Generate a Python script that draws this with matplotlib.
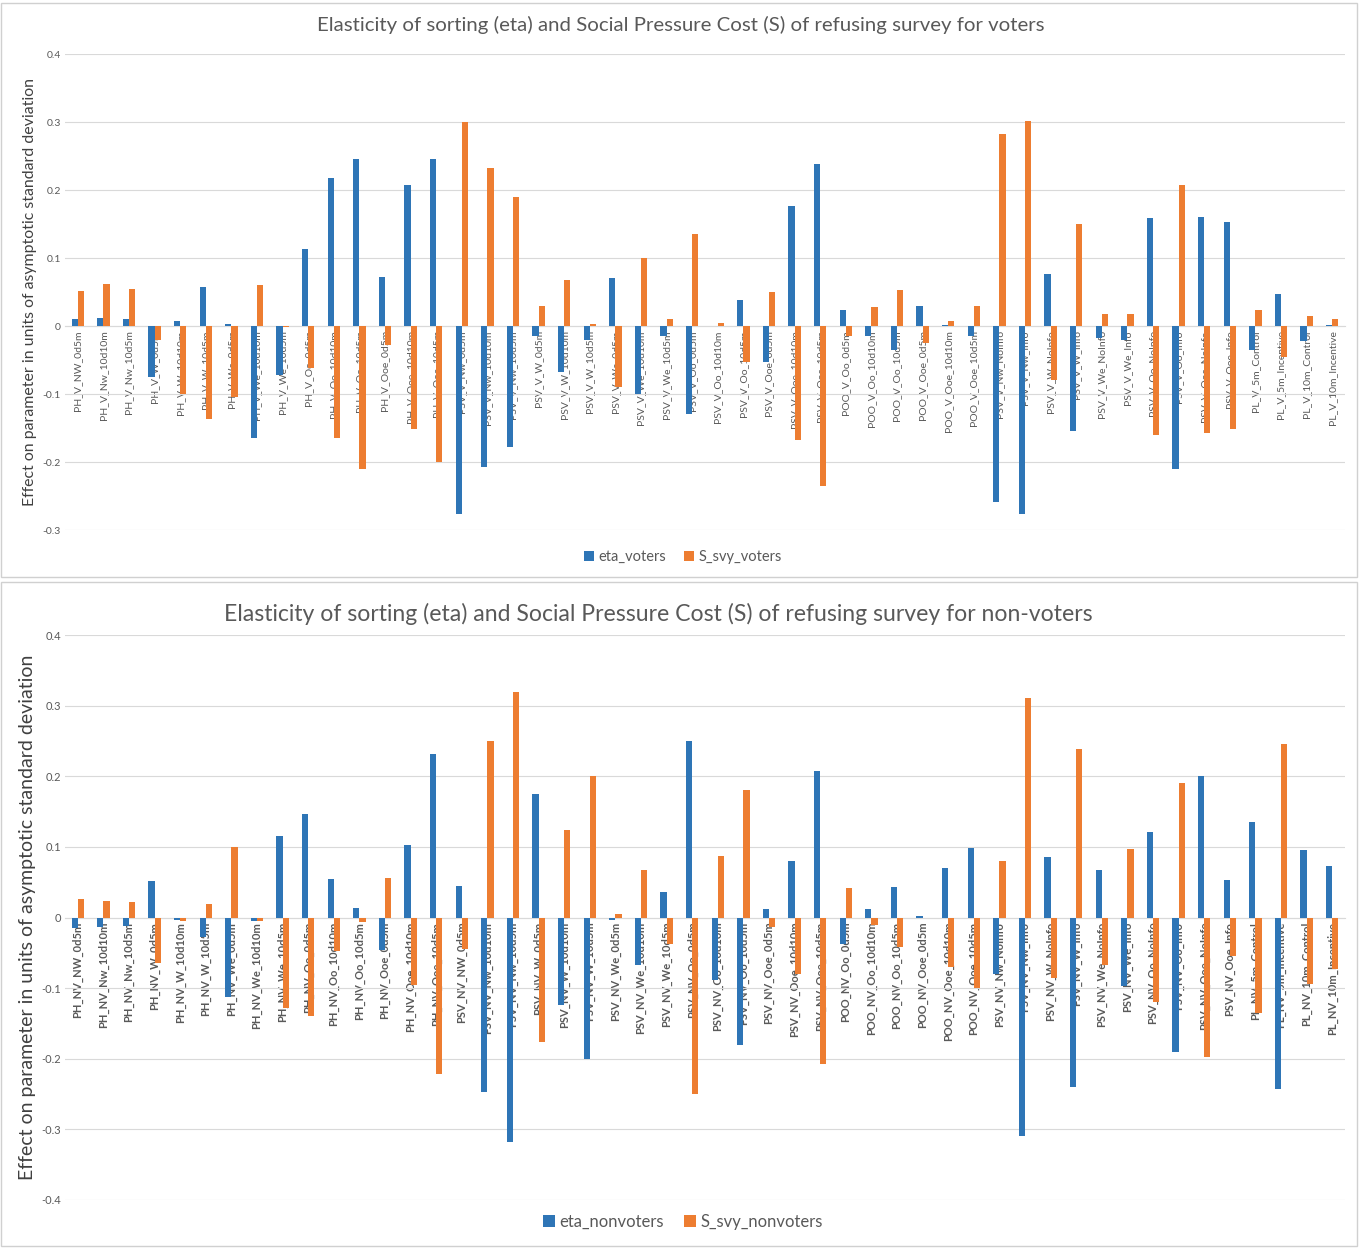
import numpy as np
import matplotlib.pyplot as plt
from matplotlib.patches import Rectangle

plt.rcParams['font.family'] = ['Lato', 'DejaVu Sans']

# ---------------------------------------------------------------------------
# Data
# ---------------------------------------------------------------------------
suffixes = [
    "NW_0d5m", "Nw_10d10m", "Nw_10d5m", "W_0d5m", "W_10d10m", "W_10d5m",
    "We_0d5m", "We_10d10m", "We_10d5m", "Oo_0d5m", "Oo_10d10m", "Oo_10d5m",
    "Ooe_0d5m", "Ooe_10d10m", "Ooe_10d5m",
]
poo_suffixes = ["Oo_0d5m", "Oo_10d10m", "Oo_10d5m", "Ooe_0d5m", "Ooe_10d10m", "Ooe_10d5m"]
info_suffixes = ["Nw_NoInfo", "Nw_Info", "W_NoInfo", "W_Info", "We_NoInfo", "We_Info",
                 "Oo_NoInfo", "Oo_Info", "Ooe_NoInfo", "Ooe_Info"]
pl_suffixes = ["5m_Control", "5m_Incentive", "10m_Control", "10m_Incentive"]


def make_labels(tag, psv_first):
    return ([f"PH_{tag}_{s}" for s in suffixes]
            + [f"PSV_{tag}_{psv_first}"] + [f"PSV_{tag}_{s}" for s in suffixes[1:]]
            + [f"POO_{tag}_{s}" for s in poo_suffixes]
            + [f"PSV_{tag}_{s}" for s in info_suffixes]
            + [f"PL_{tag}_{s}" for s in pl_suffixes])


labels_voters = make_labels("V", "Nw_0d5m")
labels_nonvoters = make_labels("NV", "NW_0d5m")

eta_voters = [0.010, 0.012, 0.010, -0.075, 0.008, 0.057, 0.003, -0.165, -0.072,
              0.113, 0.218, 0.246, 0.072, 0.207, 0.246,
              -0.277, -0.208, -0.178, -0.015, -0.068, -0.020, 0.071, -0.100, -0.015,
              -0.130, 0.000, 0.038, -0.053, 0.176, 0.238,
              0.024, -0.015, -0.035, 0.029, 0.002, -0.014,
              -0.259, -0.277, 0.077, -0.155, -0.018, -0.020, 0.159, -0.210, 0.161, 0.153,
              -0.035, 0.047, -0.022, 0.001]
S_svy_voters = [0.052, 0.062, 0.054, -0.020, -0.100, -0.137, -0.105, 0.060, -0.002,
                -0.062, -0.165, -0.210, -0.028, -0.152, -0.200,
                0.300, 0.233, 0.190, 0.029, 0.068, 0.003, -0.090, 0.100, 0.011,
                0.135, 0.004, -0.053, 0.050, -0.168, -0.236,
                -0.015, 0.028, 0.053, -0.025, 0.008, 0.030,
                0.283, 0.302, -0.080, 0.150, 0.018, 0.018, -0.160, 0.207, -0.157, -0.152,
                0.024, -0.045, 0.015, 0.010]

eta_nonvoters = [-0.015, -0.013, -0.012, 0.051, -0.004, -0.028, -0.113, -0.005, 0.115,
                 0.146, 0.055, 0.013, -0.046, 0.102, 0.231,
                 0.045, -0.247, -0.318, 0.175, -0.124, -0.200, -0.003, -0.067, 0.036,
                 0.250, -0.088, -0.180, 0.012, 0.080, 0.208,
                 -0.037, 0.012, 0.043, 0.002, 0.070, 0.098,
                 -0.080, -0.310, 0.086, -0.240, 0.067, -0.097, 0.121, -0.190, 0.200, 0.053,
                 0.135, -0.243, 0.095, 0.073]
S_svy_nonvoters = [0.026, 0.023, 0.022, -0.065, -0.005, 0.019, 0.100, -0.005, -0.128,
                   -0.140, -0.048, -0.006, 0.056, -0.095, -0.222,
                   -0.045, 0.250, 0.320, -0.176, 0.124, 0.200, 0.005, 0.067, -0.037,
                   -0.250, 0.087, 0.180, -0.013, -0.080, -0.207,
                   0.042, -0.010, -0.042, 0.000, -0.070, -0.100,
                   0.080, 0.311, -0.085, 0.239, -0.067, 0.097, -0.120, 0.190, -0.198, -0.054,
                   -0.135, 0.245, -0.094, -0.073]

BLUE = "#2E75B6"
ORANGE = "#ED7D31"
W, H = 1359, 1248


def px_axes(fig, x0, y0, x1, y1):
    return fig.add_axes([x0 / W, 1 - y1 / H, (x1 - x0) / W, (y1 - y0) / H])


def draw_panel(fig, box, area, labels, eta, s, names, ylim, yticks, title, fs):
    bx0, by0, bx1, by1 = box
    fig.patches.append(Rectangle((bx0 / W, 1 - by1 / H), (bx1 - bx0) / W, (by1 - by0) / H,
                                 transform=fig.transFigure, fill=False,
                                 edgecolor="#D0D0D0", linewidth=1))
    ax = px_axes(fig, *area)
    x = np.arange(len(labels))
    w = 0.24
    ax.bar(x - w / 2, eta, w, color=BLUE, label=names[0], zorder=3)
    ax.bar(x + w / 2, s, w, color=ORANGE, label=names[1], zorder=3)
    ax.set_xlim(-0.5, len(labels) - 0.5)
    ax.set_ylim(*ylim)
    ax.set_yticks(yticks)
    ax.set_yticklabels([f"{t:g}" if t != 0 else "0" for t in yticks],
                       fontsize=fs['tick'], color="#595959")
    ax.grid(axis='y', color="#D9D9D9", linewidth=0.8, zorder=0)
    for sp in ['top', 'right', 'left']:
        ax.spines[sp].set_visible(False)
    ax.spines['bottom'].set_position(('data', 0))
    ax.spines['bottom'].set_color("#D9D9D9")
    ax.set_xticks(x)
    ax.set_xticklabels(labels, rotation=90, fontsize=fs['xt'], color="#595959",
                       fontweight=fs.get('xw', 'normal'))
    ax.tick_params(axis='both', length=0, pad=3)
    ax.set_ylabel("Effect on parameter in units of asymptotic standard deviation",
                  fontsize=fs['yl'], color="#404040")
    tx, ty = fs['tpos']
    fig.text(tx / W, 1 - ty / H, title, fontsize=fs['title'], color="#595959",
             ha='center', va='center')
    lx, ly = fs['legpos']
    ax.legend(loc='center', bbox_to_anchor=(lx / W, 1 - ly / H),
              bbox_transform=fig.transFigure, ncol=2,
              frameon=False, fontsize=fs['leg'], handlelength=0.7, handleheight=0.7,
              columnspacing=1.2, handletextpad=0.3, labelcolor="#595959")
    return ax


fig = plt.figure(figsize=(W / 100, H / 100), dpi=100)

draw_panel(fig, (1, 3, 1357, 577), (65, 54, 1345, 530), labels_voters,
           eta_voters, S_svy_voters, ["eta_voters", "S_svy_voters"],
           (-0.3, 0.4), np.round(np.arange(-0.3, 0.41, 0.1), 1),
           "Elasticity of sorting (eta) and Social Pressure Cost (S) of refusing survey for voters",
           dict(tick=7.5, xt=7.5, yl=11.4, title=14.7, tpos=(681, 25), leg=10.5,
                legpos=(683, 557)))

draw_panel(fig, (1, 582, 1357, 1246), (65, 635, 1345, 1200), labels_nonvoters,
           eta_nonvoters, S_svy_nonvoters, ["eta_nonvoters", "S_svy_nonvoters"],
           (-0.4, 0.4), np.round(np.arange(-0.4, 0.41, 0.1), 1),
           "Elasticity of sorting (eta) and Social Pressure Cost (S) of refusing survey for non-voters",
           dict(tick=8, xt=8, xw='bold', yl=14, title=16.6, tpos=(658, 614), leg=12,
                legpos=(683, 1222)))

fig.savefig("out.png", dpi=100)
